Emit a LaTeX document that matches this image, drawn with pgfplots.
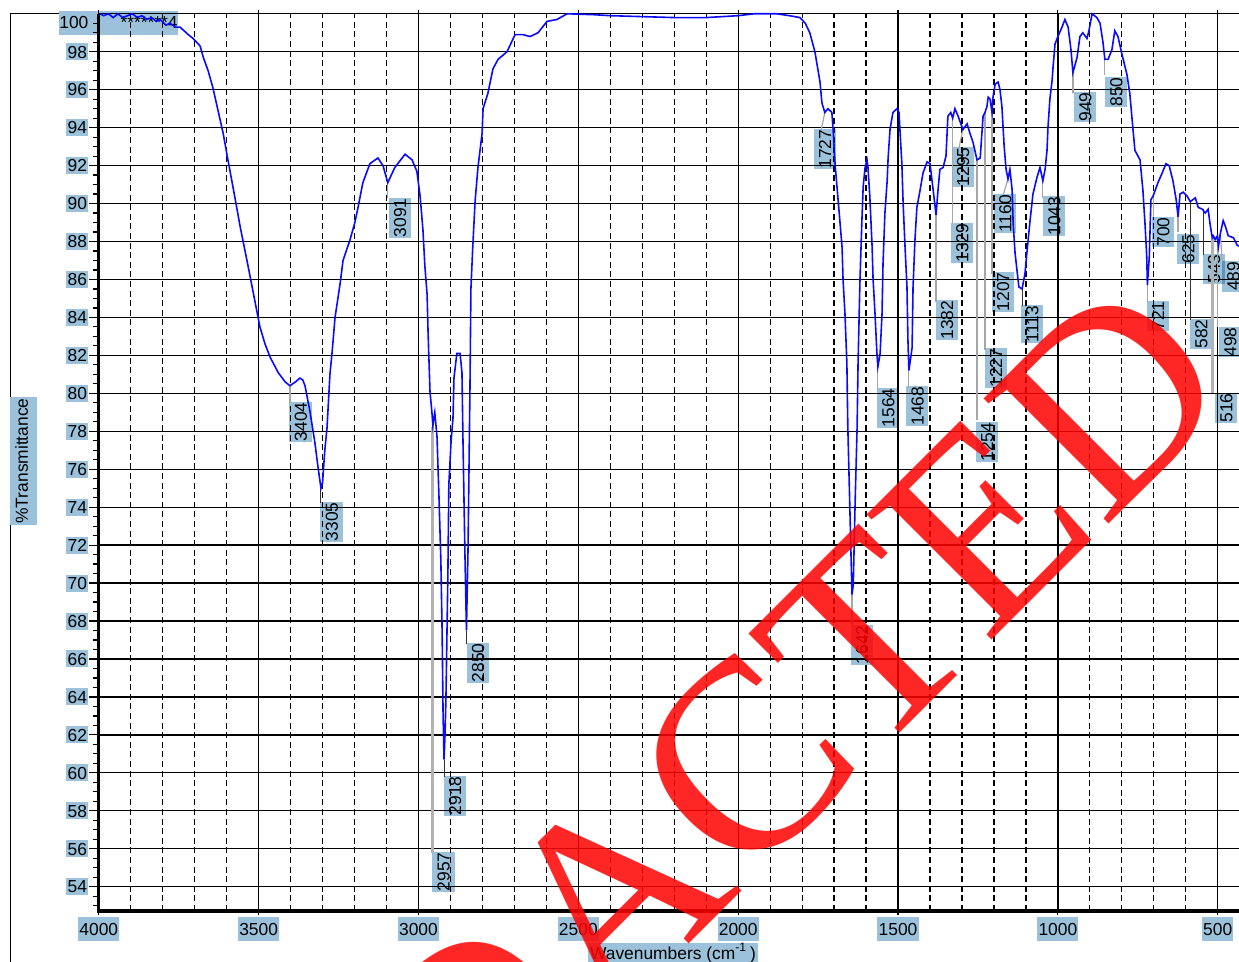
\documentclass[border=0pt]{standalone}
\usepackage{fontspec}
\setmainfont{Liberation Sans}
\newfontfamily\wmfont{Liberation Serif}
\usepackage{pgfplots}
\pgfplotsset{compat=1.18}
\definecolor{lblue}{RGB}{155,194,218}
\definecolor{spec}{RGB}{10,10,255}
\newcommand{\lfont}{\fontsize{8.7}{9}\selectfont}
\tikzset{
  lab/.style={fill=lblue, blend mode=multiply, inner xsep=0.4pt, inner ysep=2.4pt,
    text height=6.3pt, text depth=0pt, rotate=90, font=\lfont},
  lead/.style={black!35, line width=0.6pt},
  leadk/.style={black!80, line width=0.5pt},
}

\pgfplotstableread{
wn T
3996 100.0
3985 99.9
3970 100.0
3955 99.8
3940 100.0
3925 99.8
3910 99.9
3895 100.0
3880 99.8
3865 99.9
3850 99.7
3835 99.8
3820 99.6
3808 99.7
3790 99.4
3777 99.5
3760 99.3
3746 99.3
3720 98.9
3705 98.7
3683 98.3
3673 97.7
3658 97.0
3643 96.1
3627 94.9
3611 93.7
3596 92.3
3574 90.3
3558 88.8
3533 86.7
3511 84.8
3496 83.5
3480 82.6
3464 81.9
3439 81.1
3417 80.6
3402 80.4
3385 80.6
3371 80.8
3362 80.7
3355 80.4
3340 79.1
3324 77.4
3315 76.2
3305 75.0
3300 75.3
3293 77.0
3286 78.2
3277 81.0
3270 82.2
3261 84.0
3245 85.8
3236 87.0
3214 88.1
3199 89.0
3189 89.8
3174 91.1
3152 92.1
3127 92.4
3111 92.0
3096 91.1
3074 91.9
3042 92.6
3020 92.3
3005 91.7
2995 90.4
2986 88.6
2980 86.7
2973 85.2
2970 83.2
2964 80.1
2958 79.0
2955 78.3
2951 78.8
2949 79.0
2942 77.7
2936 74.6
2930 71.2
2926 67.4
2923 63.0
2920 60.7
2917 62.0
2914 64.0
2908 70.5
2905 75.2
2898 77.5
2892 78.7
2889 80.8
2880 82.1
2870 82.1
2864 81.1
2861 77.7
2855 71.8
2850 67.5
2845 71.8
2839 80.2
2836 85.5
2830 87.8
2823 90.1
2814 91.9
2801 93.7
2798 95.0
2783 95.8
2767 97.1
2751 97.6
2723 98.0
2698 98.9
2673 98.9
2651 98.8
2626 99.0
2598 99.6
2567 99.7
2535 100.0
2450 99.95
2400 99.9
2300 99.85
2200 99.8
2100 99.8
2050 99.85
2000 99.9
1950 100.0
1880 100.0
1840 99.9
1807 99.8
1790 99.5
1776 99.0
1760 98.0
1750 97.0
1744 96.4
1738 95.3
1729 94.8
1719 95.0
1707 94.8
1703 93.9
1697 92.1
1688 90.3
1675 87.7
1672 86.0
1666 84.2
1660 81.6
1657 78.2
1650 73.5
1644 69.4
1640 69.9
1634 74.4
1628 78.2
1625 81.6
1619 86.0
1613 89.1
1609 90.9
1603 91.9
1597 92.3
1594 91.9
1588 90.3
1581 87.7
1578 86.0
1572 84.2
1566 82.1
1563 81.4
1556 82.1
1550 84.2
1547 86.8
1541 89.5
1534 91.2
1531 92.4
1525 93.9
1516 94.8
1503 95.0
1497 94.8
1488 92.1
1484 90.0
1478 87.7
1472 85.6
1469 82.8
1466 81.2
1456 82.4
1453 85.6
1447 88.1
1441 89.8
1431 90.7
1422 91.6
1409 92.2
1400 92.1
1390 90.7
1381 89.4
1375 90.7
1369 91.8
1359 91.9
1350 92.5
1344 94.6
1335 94.8
1329 94.5
1322 95.0
1312 94.6
1297 93.9
1284 94.2
1275 93.7
1265 93.2
1253 92.3
1243 92.4
1234 94.6
1228 94.8
1222 95.1
1218 95.6
1212 95.5
1206 94.8
1203 95.6
1196 96.3
1187 96.4
1181 96.0
1175 95.1
1168 93.0
1162 91.8
1156 91.3
1150 91.8
1143 90.7
1140 89.0
1134 87.4
1128 86.5
1122 85.6
1112 85.5
1103 86.3
1097 87.4
1087 89.1
1078 90.5
1065 91.4
1056 91.9
1047 91.2
1040 91.8
1034 92.8
1031 94.0
1025 95.5
1018 96.5
1015 97.2
1009 98.4
1000 98.8
987 99.3
978 99.7
968 99.3
959 98.1
953 96.9
940 97.7
931 98.8
922 99.0
909 98.7
903 99.1
893 100.0
878 99.8
868 99.5
859 98.5
853 97.6
843 97.6
831 98.1
822 99.1
812 98.8
800 97.9
784 96.8
775 95.8
765 93.9
759 92.8
743 92.3
734 90.7
727 88.8
722 87.2
720 85.7
714 87.2
709 90.2
702 90.4
687 91.1
674 91.6
662 92.1
652 92.0
640 91.2
630 90.2
624 89.3
618 90.5
608 90.6
596 90.4
586 90.1
570 90.3
561 89.8
548 89.7
539 89.5
530 89.7
523 88.8
517 88.2
514 88.3
508 88.1
501 88.3
498 87.7
492 88.4
483 89.1
476 88.8
467 88.3
451 88.2
439 87.8
425 87.7
}\spectrum

\begin{document}
\begin{tikzpicture}
\useasboundingbox (-49.4pt,-25.5pt) rectangle (570.1pt,455.5pt);
\clip (-49.4pt,-25.5pt) rectangle (570.1pt,455.5pt);
% outer frame and the crowded label strip at the top left
\draw[line width=0.5pt] (-43.9pt,-40pt) -- (-43.9pt,448.8pt) -- (0pt,448.8pt);
\fill[lblue] (-19.9pt,438pt) rectangle (39.6pt,450pt);
\node[font=\lfont, anchor=east, inner sep=0pt] at (-5pt,444pt) {100};
\node[font=\lfont, anchor=east, inner sep=0pt] at (39.6pt,444pt) {*******4};

\begin{axis}[
  at={(0pt,0pt)}, anchor=south west, scale only axis,
  width=572pt, height=448.6pt,
  x dir=reverse, xmin=421.6, xmax=4000,
  ymin=52.72, ymax=100,
  xtick={500,1000,...,4000},
  xticklabels={500,1000,1500,2000,2500,3000,3500,4000},
  minor x tick num=4,
  ytick={54,56,...,98},
  yticklabels={54,56,58,60,62,64,66,68,70,72,74,76,78,80,82,84,86,88,90,92,94,96,98},
  minor y tick num=3,
  extra y ticks={53,53.5,98.5,99,99.5},
  extra y tick labels={,,,,},
  extra y tick style={grid=none, major tick length=3pt, tick label style={fill=none}},
  xmajorgrids, ymajorgrids, xminorgrids,
  major grid style={black, line width=0.65pt},
  minor grid style={black, line width=0.6pt, dash pattern=on 3pt off 1.8pt},
  tick align=outside,
  major tick length=5pt, minor tick length=3pt,
  xtick style={/pgfplots/major tick length=2pt, /pgfplots/minor tick length=0pt},
  tick style={black, line width=0.6pt},
  axis line style={black, line width=0.7pt},
  ticklabel style={font=\lfont, fill=lblue, text height=6.3pt, text depth=0pt},
  xticklabel style={inner xsep=0.6pt, inner ysep=2.8pt, yshift=2pt},
  yticklabel style={inner xsep=0.65pt, inner ysep=1.1pt},
  clip=false,
]
% peak labels
\node[lab] at (axis cs:3369,78.49) {3404};
\node[lab] at (axis cs:3272,73.22) {3305};
\node[lab] at (axis cs:3058,89.24) {3091};
\node[lab] at (axis cs:2922,54.78) {2957};
\node[lab] at (axis cs:2886,58.78) {2918};
\node[lab] at (axis cs:2814,65.79) {2850};
\node[lab] at (axis cs:1729,92.87) {1727};
\node[lab] at (axis cs:1613,66.74) {1642};
\node[lab] at (axis cs:1531,79.23) {1564};
\node[lab] at (axis cs:1440,79.33) {1468};
\node[lab] at (axis cs:1347,83.86) {1382};
\node[lab] at (axis cs:1300,87.92) {1329};
\node[lab] at (axis cs:1297,91.93) {1295};
\node[lab] at (axis cs:1222,77.43) {1254};
\node[lab] at (axis cs:1194,81.33) {1227};
\node[lab] at (axis cs:1172,85.34) {1207};
\node[lab] at (axis cs:1165,89.45) {1160};
\node[lab] at (axis cs:1081,83.65) {1113};
\node[lab] at (axis cs:1012,89.34) {1043};
\node[lab] at (axis cs:915,95.08) {949};
\node[lab] at (axis cs:818,95.88) {850};
\node[lab] at (axis cs:687,84.07) {721};
\node[lab] at (axis cs:671,88.5) {700};
\node[lab] at (axis cs:593,87.6) {625};
\node[lab] at (axis cs:552,83.12) {582};
\node[lab] at (axis cs:512,86.55) {543};
\node[lab] at (axis cs:474,79.23) {516};
\node[lab] at (axis cs:461,82.7) {498};
\node[lab] at (axis cs:452,86.17) {489};
% leader lines
\draw[lead] (axis cs:3402,80.4) -- (axis cs:3402,79.5);
\draw[leadk] (axis cs:3305,75.0) -- (axis cs:3305,74.2);
\draw[lead] (axis cs:3096,91.1) -- (axis cs:3096,90.3);
\draw[black!30, line width=1.4pt] (axis cs:2955,78.2) -- (axis cs:2955,55.8);
\draw[leadk] (axis cs:2920,60.7) -- (axis cs:2920,59.8);
\draw[leadk] (axis cs:2850,67.5) -- (axis cs:2850,66.8);
\draw[lead] (axis cs:1729,94.8) -- (axis cs:1740,93.9);
\draw[lead] (axis cs:1644,69.5) -- (axis cs:1644,67.8);
\draw[lead] (axis cs:1563,81.4) -- (axis cs:1563,80.2);
\draw[lead] (axis cs:1466,81.2) -- (axis cs:1466,80.3);
\draw[lead] (axis cs:1381,89.4) -- (axis cs:1381,84.8);
\draw[lead] (axis cs:1329,94.5) -- (axis cs:1329,89.0);
\draw[lead] (axis cs:1297,93.9) -- (axis cs:1310,92.9);
\draw[lead] (axis cs:1253,92.3) -- (axis cs:1253,78.6);
\draw[lead] (axis cs:1228,94.8) -- (axis cs:1228,82.3);
\draw[lead] (axis cs:1206,94.8) -- (axis cs:1206,86.3);
\draw[lead] (axis cs:1156,91.3) -- (axis cs:1170,90.5);
\draw[leadk] (axis cs:1112,85.5) -- (axis cs:1112,84.6);
\draw[lead] (axis cs:1047,91.2) -- (axis cs:1047,90.3);
\draw[lead] (axis cs:953,96.9) -- (axis cs:953,95.8);
\draw[lead] (axis cs:853,97.6) -- (axis cs:853,96.8);
\draw[lead] (axis cs:720,85.7) -- (axis cs:720,84.8);
\draw[lead] (axis cs:702,90.4) -- (axis cs:702,89.3);
\draw[lead] (axis cs:624,89.3) -- (axis cs:624,88.5);
\draw[leadk] (axis cs:584,90.1) -- (axis cs:584,83.85);
\draw[leadk] (axis cs:545,89.7) -- (axis cs:545,87.3);
\draw[black!30, line width=1.4pt] (axis cs:517,88.2) -- (axis cs:517,80.0);
\draw[lead] (axis cs:501,88.3) -- (axis cs:501,83.5);
\draw[lead] (axis cs:492,88.4) -- (axis cs:486,87.0);
% spectrum
\addplot[spec, line width=0.8pt] table[x=wn, y=T] {\spectrum};
% heavy left and bottom axis lines
\draw[black, line width=1.65pt] (rel axis cs:0,1) -- (rel axis cs:0,0) -- (rel axis cs:1,0);
\end{axis}

\node[fill=lblue, rotate=90, font=\lfont, inner xsep=0.5pt, inner ysep=2.5pt,
  text height=6.3pt, text depth=1.8pt] at (-37.65pt,225pt) {\%Transmittance};
\node[fill=lblue, font=\lfont, inner xsep=1pt, inner ysep=2pt,
  text height=6.3pt, text depth=1.8pt] at (287.1pt,-22pt) {Wavenumbers (cm\textsuperscript{-1}\,)};

\node[rotate=45, text=red, opacity=0.85, inner sep=0pt,
  font=\wmfont\fontsize{135}{135}\selectfont] at (285.6pt,36.5pt) {REDACTED};
\end{tikzpicture}
\end{document}
